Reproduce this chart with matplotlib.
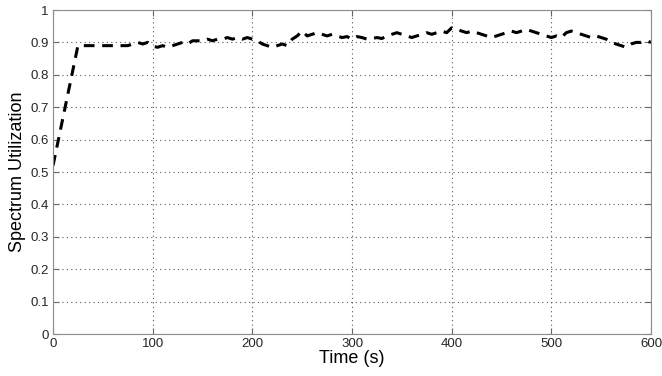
import matplotlib.pyplot as plt
import numpy as np

plt.rcParams['font.family'] = ['Liberation Sans', 'DejaVu Sans']

# spectrum utilization over the simulation run
time_s = [0, 25] + list(range(30, 605, 5))
utilization = [
    0.52, 0.89,
    0.89, 0.89, 0.89, 0.89, 0.89, 0.89, 0.89, 0.89, 0.89, 0.89,
    0.895, 0.90, 0.895, 0.90, 0.888, 0.885, 0.89, 0.885, 0.89, 0.895,
    0.90, 0.895, 0.905, 0.905, 0.905, 0.91, 0.905, 0.91, 0.91, 0.915,
    0.91, 0.915, 0.91, 0.915, 0.91, 0.905, 0.895, 0.89, 0.885, 0.89,
    0.895, 0.89, 0.91, 0.92, 0.935, 0.92, 0.925, 0.93, 0.925, 0.92,
    0.925, 0.92, 0.915, 0.918, 0.91, 0.918, 0.915, 0.91, 0.912, 0.915,
    0.912, 0.92, 0.925, 0.93, 0.925, 0.92, 0.915, 0.92, 0.925, 0.93,
    0.925, 0.93, 0.935, 0.93, 0.945, 0.94, 0.935, 0.93, 0.935, 0.93,
    0.925, 0.92, 0.915, 0.92, 0.925, 0.93, 0.935, 0.93, 0.935, 0.94,
    0.935, 0.93, 0.925, 0.92, 0.915, 0.92, 0.915, 0.93, 0.935, 0.93,
    0.925, 0.92, 0.915, 0.92, 0.915, 0.91, 0.90, 0.895, 0.89, 0.885,
    0.895, 0.90, 0.90, 0.905, 0.90,
]

x_ticks = [0, 100, 200, 300, 400, 500, 600]
y_ticks = np.round(np.arange(0, 1.01, 0.1), 1)
y_tick_labels = ['0', '0.1', '0.2', '0.3', '0.4', '0.5', '0.6',
                 '0.7', '0.8', '0.9', '1']

fig = plt.figure(figsize=(6.62, 3.76), dpi=100)
ax = fig.add_axes([0.0801, 0.1117, 0.9033, 0.8617])

ax.plot(time_s, utilization, color='black', linewidth=2.2,
        linestyle=(0, (3.5, 2.5)))

ax.set_xlim(0, 600)
ax.set_ylim(0, 1)
ax.set_xticks(x_ticks)
ax.set_yticks(y_ticks)
ax.set_yticklabels(y_tick_labels)

ax.grid(True, color='0.35', linestyle=(0, (1, 3)), linewidth=0.8)
ax.tick_params(direction='in', top=True, right=True, labelsize=9.5,
               labelcolor='0.15', length=4, color='0.4', pad=3)
for spine in ax.spines.values():
    spine.set_color('0.55')

ax.set_xlabel('Time (s)', fontsize=13, labelpad=0)
ax.set_ylabel('Spectrum Utilization', fontsize=13, labelpad=3)

fig.savefig('out.png', dpi=100)
